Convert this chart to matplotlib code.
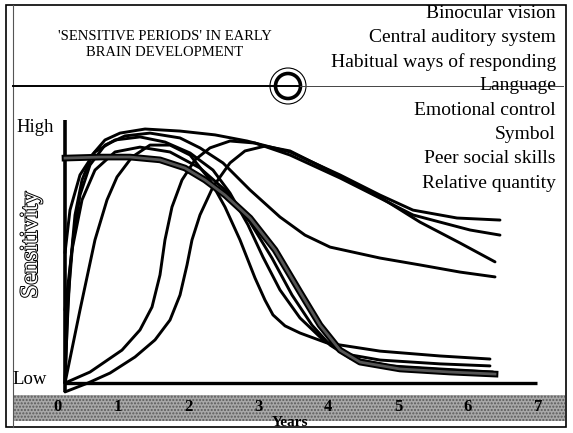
import matplotlib.pyplot as plt
from matplotlib.patches import Circle, Rectangle
import matplotlib.patheffects as pe

# --- Data (years, sensitivity 0=Low .. 1=High) ---

TITLE = "'SENSITIVE PERIODS' IN EARLY\nBRAIN DEVELOPMENT"
LABELS = ["Binocular vision", "Central auditory system",
          "Habitual ways of responding", "Language", "Emotional control",
          "Symbol", "Peer social skills", "Relative quantity"]
YEAR_LABELS = ["0", "1", "2", "3", "4", "5", "6", "7"]

# thick stippled curve: flat start, steep drop after age 3
thick_x = [0.243, 0.743, 1.171, 1.6, 1.957, 2.243, 2.529, 2.886, 3.243, 3.6,
           3.886, 4.171, 4.457, 5.029, 5.743, 6.386]
thick_y = [0.882, 0.886, 0.886, 0.875, 0.843, 0.796, 0.737, 0.647, 0.522, 0.357,
           0.227, 0.129, 0.082, 0.055, 0.043, 0.035]

top_x = [0.243, 0.271, 0.314, 0.386, 0.486, 0.629, 0.814, 1.029, 1.386, 1.886,
         2.386, 2.843, 3.457, 4.171, 4.743, 5.214, 5.843, 6.457]
top_y = [0.0, 0.208, 0.443, 0.659, 0.796, 0.894, 0.953, 0.980, 0.996, 0.988,
         0.973, 0.949, 0.906, 0.816, 0.737, 0.678, 0.647, 0.639]

gentle_x = [0.243, 0.286, 0.357, 0.457, 0.6, 0.814, 1.1, 1.457, 1.886, 2.171,
            2.5, 2.886, 3.314, 3.671, 4.029, 4.743, 5.314, 5.886, 6.386]
gentle_y = [0.0, 0.325, 0.561, 0.737, 0.855, 0.933, 0.969, 0.980, 0.961, 0.922,
            0.863, 0.757, 0.651, 0.580, 0.533, 0.490, 0.463, 0.435, 0.416]

early_x = [0.243, 0.457, 0.671, 0.843, 0.986, 1.2, 1.457, 1.743, 2.029, 2.314,
           2.529, 2.743, 2.957, 3.1, 3.214, 3.386, 3.6, 3.986, 4.743, 5.6, 6.314]
early_y = [0.0, 0.286, 0.561, 0.718, 0.808, 0.886, 0.933, 0.933, 0.894, 0.796,
           0.690, 0.561, 0.412, 0.325, 0.267, 0.224, 0.196, 0.157, 0.125, 0.106, 0.094]

mid_x = [0.243, 0.314, 0.457, 0.671, 0.957, 1.314, 1.671, 2.029, 2.357, 2.6,
         2.857, 3.071, 3.314, 3.6, 3.929, 4.243, 4.743, 5.6, 6.314]
mid_y = [0.510, 0.678, 0.816, 0.906, 0.953, 0.965, 0.945, 0.902, 0.835, 0.745,
         0.620, 0.494, 0.365, 0.255, 0.169, 0.114, 0.090, 0.075, 0.067]

low_x = [0.243, 0.343, 0.486, 0.671, 0.957, 1.314, 1.743, 2.171, 2.529, 2.886,
         3.2, 3.486, 3.771, 4.029, 4.314, 4.886, 5.6, 6.357]
low_y = [0.286, 0.522, 0.718, 0.835, 0.906, 0.925, 0.906, 0.843, 0.757, 0.631,
         0.490, 0.345, 0.227, 0.149, 0.098, 0.067, 0.055, 0.043]

late_x = [0.243, 0.6, 1.057, 1.314, 1.486, 1.6, 1.671, 1.771, 1.914, 2.1,
          2.314, 2.6, 2.957, 3.457, 4.171, 4.743, 5.214, 5.6, 6.029, 6.457]
late_y = [0.0, 0.043, 0.129, 0.208, 0.298, 0.424, 0.561, 0.690, 0.796, 0.875,
          0.922, 0.949, 0.941, 0.894, 0.804, 0.725, 0.659, 0.631, 0.6, 0.580]

latest_x = [0.243, 0.571, 0.886, 1.243, 1.529, 1.743, 1.886, 1.986, 2.057, 2.171,
            2.357, 2.6, 2.814, 3.1, 3.457, 4.171, 4.743, 5.314, 5.886, 6.386]
latest_y = [-0.035, 0.0, 0.039, 0.102, 0.169, 0.247, 0.345, 0.463, 0.561, 0.659,
            0.769, 0.863, 0.910, 0.929, 0.910, 0.812, 0.729, 0.631, 0.549, 0.475]

thin_curves = [(top_x, top_y), (gentle_x, gentle_y), (early_x, early_y),
               (mid_x, mid_y), (low_x, low_y), (late_x, late_y),
               (latest_x, latest_y)]

# --- Figure: a pixel-space layer for the frame, a data layer on top ---
W, H = 573, 433
fig = plt.figure(figsize=(W / 100, H / 100), dpi=100)
deco = fig.add_axes([0, 0, 1, 1])
deco.set_xlim(0, W)
deco.set_ylim(H, 0)
deco.axis('off')

serif = 'Liberation Serif'

# frame
deco.add_patch(Rectangle((6, 5), 560, 422, fill=False, lw=1.2, ec='black'))
deco.plot([13, 13], [5, 427], color='#555555', lw=0.8)

# header rule with the circled bar
deco.plot([13, 300], [86, 86], color='black', lw=1.4)
deco.plot([300, 563], [86, 86], color='#444444', lw=0.7)
deco.add_patch(Circle((288, 86), 18, fill=False, lw=0.8, ec='black'))
deco.add_patch(Circle((288, 86), 12.5, fill=False, lw=2.6, ec='black'))

deco.text(165, 44, TITLE, ha='center', va='center', family=serif,
          fontsize=10.5, linespacing=1.3)
for i, lab in enumerate(LABELS):
    deco.text(556, 13 + 24.3 * i, lab, ha='right', va='center', family=serif,
              fontsize=14)

# grey band holding the year labels
deco.add_patch(Rectangle((13, 395), 552, 26, facecolor='#a8a8a8',
                         edgecolor='#5a5a5a', hatch='.....', lw=0.0))
deco.text(290, 423, 'Years', ha='center', va='center', family=serif,
          fontsize=11, fontweight='bold')

deco.text(16, 128, 'High', ha='left', va='center', family=serif, fontsize=13.5)
deco.text(12, 380, 'Low', ha='left', va='center', family=serif, fontsize=13.5)
deco.text(31, 245, 'Sensitivity', rotation=90, ha='center', va='center',
          family=serif, fontsize=18, color='white',
          path_effects=[pe.withStroke(linewidth=1.4, foreground='black')])

# data layer: pixel x = 48 + 70*year, pixel y = 383 - 255*sensitivity
ax = fig.add_axes([0, 0, 1, 1])
ax.patch.set_alpha(0)
ax.set_xlim(-48 / 70, (W - 48) / 70)
ax.set_ylim((383 - H) / 255, 383 / 255)
ax.axis('off')

x0 = (65 - 48) / 70
ax.plot([x0, x0], [-0.035, 1.03], color='black', lw=2.6, solid_capstyle='butt')
ax.plot([x0, (537 - 48) / 70], [0, 0], color='black', lw=2.4, solid_capstyle='butt')

for xs, ys in thin_curves:
    ax.plot(xs, ys, color='black', lw=2.1, solid_joinstyle='round',
            solid_capstyle='round')

ax.plot(thick_x, thick_y, color='black', lw=4.8, solid_joinstyle='round')
ax.plot(thick_x, thick_y, color='#555555', lw=2.0, solid_joinstyle='round')

tick_pos = [0.13, 1, 2, 3, 4, 5, 6, 7]
for p, lab in zip(tick_pos, YEAR_LABELS):
    ax.text(p, (383 - 407) / 255, lab, ha='center', va='center', family=serif,
            fontsize=12, fontweight='bold')

fig.savefig('out.png', dpi=100)
